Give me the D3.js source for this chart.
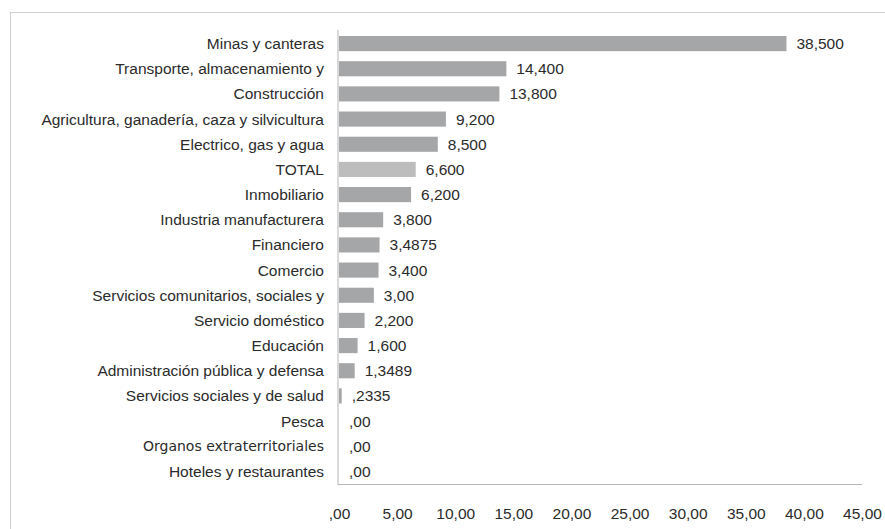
<!DOCTYPE html>
<html>
<head>
<meta charset="utf-8">
<script src="https://cdn.jsdelivr.net/npm/d3@7"></script>
<style>
  body { margin: 0; background: #fff; }
  svg { display: block; font-family: "Liberation Sans", Arial, sans-serif; }
</style>
</head>
<body>
<svg width="885" height="529"></svg>
<script>
// sectors, top to bottom
const categories = [
  "Minas y canteras",
  "Transporte, almacenamiento y",
  "Construcción",
  "Agricultura, ganadería, caza y silvicultura",
  "Electrico, gas y agua",
  "TOTAL",
  "Inmobiliario",
  "Industria manufacturera",
  "Financiero",
  "Comercio",
  "Servicios comunitarios, sociales y",
  "Servicio doméstico",
  "Educación",
  "Administración pública y defensa",
  "Servicios sociales y de salud",
  "Pesca",
  "Organos extraterritoriales",
  "Hoteles y restaurantes"
];
const values = [38.5, 14.4, 13.8, 9.2, 8.5, 6.6, 6.2, 3.8, 3.4875, 3.4, 3.0, 2.2, 1.6, 1.3489, 0.2335, 0, 0, 0];
// labels as printed on the chart
const valueLabels = ["38,500", "14,400", "13,800", "9,200", "8,500", "6,600", "6,200", "3,800", "3,4875",
  "3,400", "3,00", "2,200", "1,600", "1,3489", ",2335", ",00", ",00", ",00"];
const tickValues = [0, 5, 10, 15, 20, 25, 30, 35, 40, 45];
const tickLabels = [",00", "5,00", "10,00", "15,00", "20,00", "25,00", "30,00", "35,00", "40,00", "45,00"];

const FS = 15.5;
const TXT = '#2b2b2b';

const svg = d3.select('svg');

// outer frame (runs off the right and bottom)
svg.append('rect')
  .attr('x', 10.5).attr('y', 12.5)
  .attr('width', 950).attr('height', 600)
  .attr('fill', 'none')
  .attr('stroke', '#cfcfcf');

const PLOT = {left: 339, right: 862, top: 31, bottom: 484};

const x = d3.scaleLinear().domain([0, 45]).range([PLOT.left, PLOT.right]);
const y = d3.scaleBand().domain(categories).range([PLOT.top, PLOT.bottom])
  .paddingInner(0.4).paddingOuter(0.2);

// bars
svg.append('g').selectAll('rect')
  .data(categories)
  .join('rect')
  .attr('x', x(0))
  .attr('y', d => y(d))
  .attr('width', (d, i) => x(values[i]) - x(0))
  .attr('height', y.bandwidth())
  .attr('fill', d => d === 'TOTAL' ? '#bdbdbe' : '#a5a6a8');

// value labels
svg.append('g').selectAll('text')
  .data(categories)
  .join('text')
  .attr('x', (d, i) => x(values[i]) + 10)
  .attr('y', d => y(d) + y.bandwidth() / 2)
  .attr('dy', '0.35em')
  .attr('font-size', FS)
  .attr('fill', TXT)
  .text((d, i) => valueLabels[i]);

// category labels
svg.append('g').selectAll('text')
  .data(categories)
  .join('text')
  .attr('x', 324)
  .attr('y', d => y(d) + y.bandwidth() / 2)
  .attr('dy', '0.35em')
  .attr('text-anchor', 'end')
  .attr('fill', TXT)
  .attr('font-size', d => d === 'Organos extraterritoriales' ? 14 : FS)
  .style('font-family', d => d === 'Organos extraterritoriales' ? '"DejaVu Sans", sans-serif' : null)
  .text(d => d);

// axis lines
svg.append('line')
  .attr('x1', PLOT.left - 1).attr('x2', PLOT.left - 1)
  .attr('y1', PLOT.top - 1).attr('y2', PLOT.bottom + 1)
  .attr('stroke', '#b5b5b5');
svg.append('line')
  .attr('x1', PLOT.left - 1).attr('x2', PLOT.right)
  .attr('y1', PLOT.bottom + 0.5).attr('y2', PLOT.bottom + 0.5)
  .attr('stroke', '#b5b5b5');

// x axis ticks
const xAxis = svg.append('g')
  .attr('transform', `translate(0, ${PLOT.bottom + 21})`)
  .call(d3.axisBottom(x).tickValues(tickValues).tickFormat((d, i) => tickLabels[i]).tickSize(0));
xAxis.select('.domain').remove();
xAxis.selectAll('text')
  .attr('font-size', FS)
  .attr('font-family', '"Liberation Sans", Arial, sans-serif')
  .attr('fill', TXT);
</script>
</body>
</html>
